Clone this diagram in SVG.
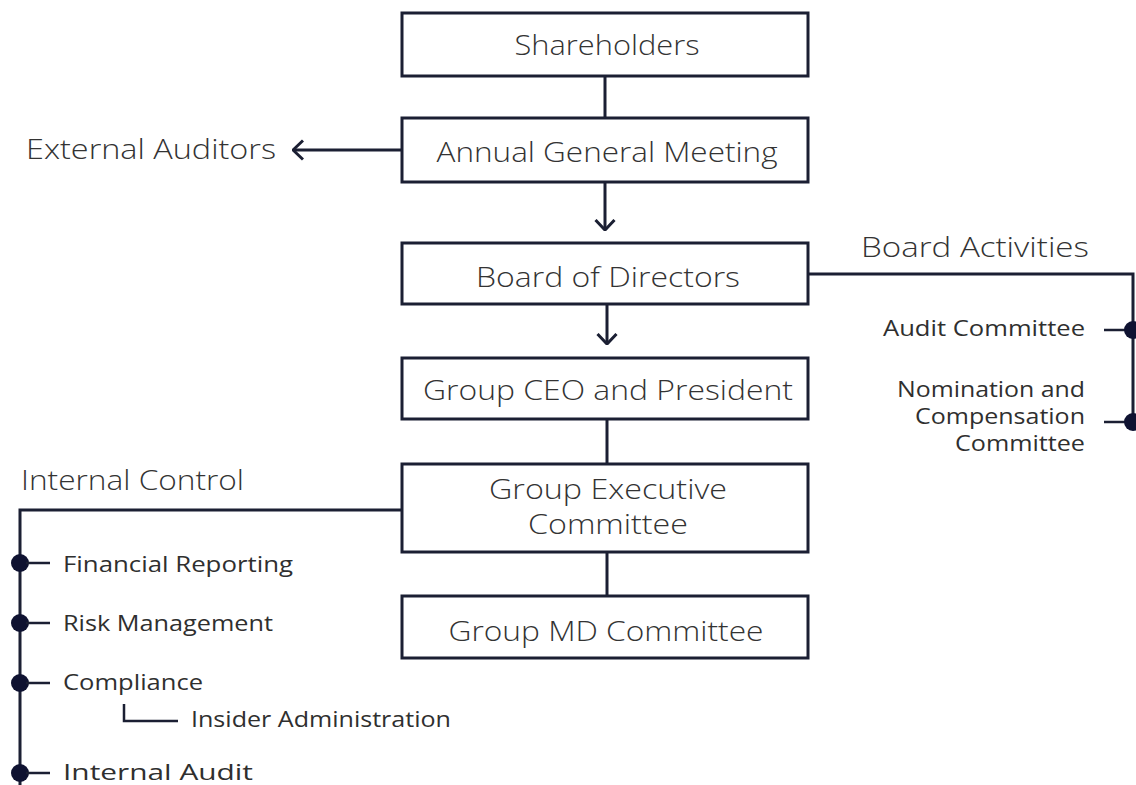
<svg xmlns="http://www.w3.org/2000/svg" width="1136" height="785" viewBox="0 0 1136 785">
<defs>
<style>
.box{fill:#ffffff;stroke:#1b1f33;stroke-width:3}
.ln{fill:none;stroke:#1b1f33;stroke-width:3}
.tk{fill:none;stroke:#1b1f33;stroke-width:2.5}
.dot{fill:#0f1231}
.big{font-family:"Open Sans","Liberation Sans",sans-serif;font-weight:300;font-size:28px;fill:#333333}
.sm{font-family:"Open Sans","Liberation Sans",sans-serif;font-weight:400;font-size:22px;fill:#2f2f2f}
.c{text-anchor:middle}
.r{text-anchor:end}
</style>
<marker id="chev" viewBox="0 0 12 22" refX="11" refY="11" markerWidth="12" markerHeight="22" markerUnits="userSpaceOnUse" orient="auto">
<path d="M1,1.5 L11,11 L1,20.5" fill="none" stroke="#1b1f33" stroke-width="3"/>
</marker>
</defs>
<rect width="1136" height="785" fill="#ffffff"/>
<g id="connectors">
<line class="ln" x1="605" y1="76" x2="605" y2="118"/>
<line class="ln" x1="402" y1="150" x2="293" y2="150" marker-end="url(#chev)"/>
<line class="ln" x1="605" y1="182" x2="605" y2="230" marker-end="url(#chev)"/>
<line class="ln" x1="607" y1="304" x2="607" y2="344" marker-end="url(#chev)"/>
<line class="ln" x1="607" y1="419" x2="607" y2="464"/>
<line class="ln" x1="607" y1="552" x2="607" y2="596"/>
<polyline class="ln" points="808,274 1133,274 1133,428"/>
<polyline class="ln" points="402,510 20,510 20,785"/>
<polyline class="tk" points="124,704 124,721 178,721"/>
</g>
<g id="shareholders">
<rect class="box" x="402" y="13" width="406" height="63"/>
<text class="big c" x="607" y="55" textLength="185" lengthAdjust="spacingAndGlyphs">Shareholders</text>
</g>
<g id="agm">
<rect class="box" x="402" y="118" width="406" height="64"/>
<text class="big c" x="607" y="162" textLength="341" lengthAdjust="spacingAndGlyphs">Annual General Meeting</text>
</g>
<g id="external-auditors">
<text class="big" x="26" y="159" textLength="250" lengthAdjust="spacingAndGlyphs">External Auditors</text>
</g>
<g id="board">
<rect class="box" x="402" y="243" width="406" height="61"/>
<text class="big c" x="608" y="287" textLength="264" lengthAdjust="spacingAndGlyphs">Board of Directors</text>
</g>
<g id="board-activities">
<text class="big" x="861" y="257" textLength="228" lengthAdjust="spacingAndGlyphs">Board Activities</text>
</g>
<g id="audit-committee">
<line class="tk" x1="1104" y1="330" x2="1126" y2="330"/>
<circle class="dot" cx="1133" cy="330" r="9"/>
<text class="sm r" x="1085" y="336" textLength="202" lengthAdjust="spacingAndGlyphs">Audit Committee</text>
</g>
<g id="nomination-committee">
<line class="tk" x1="1104" y1="422" x2="1126" y2="422"/>
<circle class="dot" cx="1133" cy="422" r="9"/>
<text class="sm r" x="1085" y="397" textLength="188" lengthAdjust="spacingAndGlyphs">Nomination and</text>
<text class="sm r" x="1085" y="424" textLength="170" lengthAdjust="spacingAndGlyphs">Compensation</text>
<text class="sm r" x="1085" y="451" textLength="130" lengthAdjust="spacingAndGlyphs">Committee</text>
</g>
<g id="ceo">
<rect class="box" x="402" y="358" width="406" height="61"/>
<text class="big c" x="608" y="400" textLength="370" lengthAdjust="spacingAndGlyphs">Group CEO and President</text>
</g>
<g id="exec-committee">
<rect class="box" x="402" y="464" width="406" height="88"/>
<text class="big c" x="608" y="499" textLength="238" lengthAdjust="spacingAndGlyphs">Group Executive</text>
<text class="big c" x="608" y="534" textLength="160" lengthAdjust="spacingAndGlyphs">Committee</text>
</g>
<g id="md-committee">
<rect class="box" x="402" y="596" width="406" height="62"/>
<text class="big c" x="606" y="641" textLength="315" lengthAdjust="spacingAndGlyphs">Group MD Committee</text>
</g>
<g id="internal-control">
<text class="big" x="21" y="490" textLength="223" lengthAdjust="spacingAndGlyphs">Internal Control</text>
</g>
<g id="financial-reporting">
<circle class="dot" cx="20" cy="563" r="9"/>
<line class="tk" x1="26" y1="563" x2="50" y2="563"/>
<text class="sm" x="63" y="572" textLength="230" lengthAdjust="spacingAndGlyphs">Financial Reporting</text>
</g>
<g id="risk-management">
<circle class="dot" cx="20" cy="623" r="9"/>
<line class="tk" x1="26" y1="623" x2="50" y2="623"/>
<text class="sm" x="63" y="631" textLength="210" lengthAdjust="spacingAndGlyphs">Risk Management</text>
</g>
<g id="compliance">
<circle class="dot" cx="20" cy="683" r="9"/>
<line class="tk" x1="26" y1="683" x2="50" y2="683"/>
<text class="sm" x="63" y="690" textLength="140" lengthAdjust="spacingAndGlyphs">Compliance</text>
</g>
<g id="insider-administration">
<text class="sm" x="191" y="727" textLength="260" lengthAdjust="spacingAndGlyphs">Insider Administration</text>
</g>
<g id="internal-audit">
<circle class="dot" cx="20" cy="773" r="9"/>
<line class="tk" x1="26" y1="773" x2="50" y2="773" stroke="#2a3566"/>
<text class="sm" x="63" y="780" textLength="190" lengthAdjust="spacingAndGlyphs">Internal Audit</text>
</g>
</svg>
